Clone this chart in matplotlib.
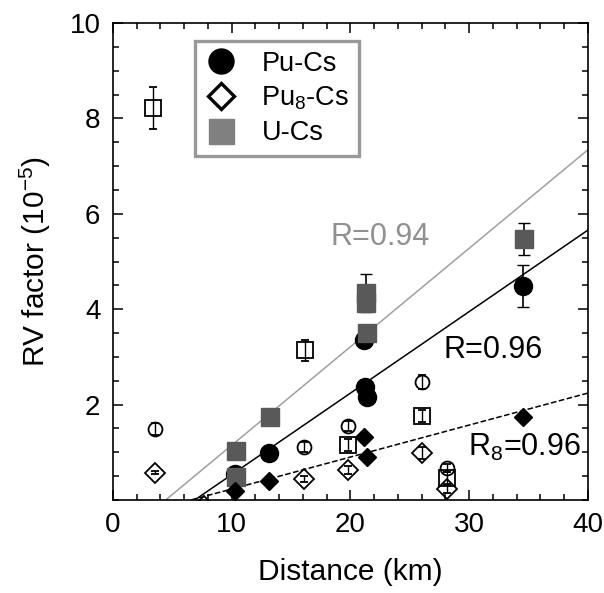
import numpy as np
import matplotlib
matplotlib.use("Agg")
import matplotlib.pyplot as plt
from matplotlib.lines import Line2D

plt.rcParams['font.family'] = ['Liberation Sans', 'DejaVu Sans']
plt.rcParams['mathtext.fontset'] = 'custom'
plt.rcParams['mathtext.rm'] = 'Liberation Sans'
plt.rcParams['mathtext.default'] = 'regular'

# filled symbols (with fits)
pu_x = [10.3, 13.1, 21.1, 21.2, 21.4, 34.5]
pu_y = [0.55, 0.99, 3.35, 2.37, 2.16, 4.49]
pu_err = [0, 0, 0, 0, 0, 0.44]

u_x = [10.4, 10.4, 13.2, 21.3, 21.3, 21.4, 34.6]
u_y = [0.47, 1.03, 1.74, 4.13, 4.34, 3.50, 5.47]
u_err = [0, 0, 0, 0, 0.40, 0, 0.33]

pu8_x = [10.3, 13.1, 21.1, 21.4, 34.5]
pu8_y = [0.18, 0.40, 1.32, 0.90, 1.74]

# open symbols (no fit)
oc_x = [3.5, 16.1, 19.8, 26.0, 28.1]
oc_y = [1.49, 1.11, 1.55, 2.47, 0.67]
oc_err = [0.12, 0.10, 0.10, 0.15, 0.08]

os_x = [3.4, 16.2, 19.8, 26.0, 28.1]
os_y = [8.22, 3.14, 1.15, 1.76, 0.46]
os_err = [0.44, 0.22, 0.12, 0.12, 0.12]

od_x = [3.5, 7.7, 16.1, 19.8, 26.0, 28.1]
od_y = [0.57, -0.12, 0.44, 0.63, 0.98, 0.23]
od_err = [0.03, 0.03, 0.06, 0.08, 0.12, 0.08]

# linear fits: slope, x-intercept, colour, style
fit_slope = [0.2066, 0.171, 0.0671]
fit_x0 = [4.45, 6.9, 6.6]
fit_color = ['#a0a0a0', 'black', 'black']
fit_style = ['-', '-', '--']

fig = plt.figure(figsize=(6.04, 5.93), dpi=100)
ax = fig.add_axes([0.187, 0.157, 0.7865, 0.804])

for k, x0, c, ls in zip(fit_slope, fit_x0, fit_color, fit_style):
    xx = np.array([x0, 40])
    ax.plot(xx, k * (xx - x0), color=c, ls=ls, lw=1.1, zorder=2)

# open symbols
ax.errorbar(oc_x, oc_y, yerr=oc_err, fmt='o', ms=10, mfc='none', mec='black',
            mew=1.3, ecolor='black', elinewidth=1, capsize=3, zorder=3)
ax.errorbar(os_x, os_y, yerr=os_err, fmt='s', ms=11, mfc='none', mec='black',
            mew=1.3, ecolor='black', elinewidth=1, capsize=3, zorder=3)
ax.errorbar(od_x, od_y, yerr=od_err, fmt='D', ms=10, mfc='none', mec='black',
            mew=1.3, ecolor='black', elinewidth=1, capsize=3, zorder=3)

# filled symbols
ax.errorbar(pu_x, pu_y, yerr=pu_err, fmt='o', ms=13, color='black',
            elinewidth=1.2, capsize=4, zorder=4)
ax.errorbar(u_x, u_y, yerr=u_err, fmt='s', ms=13.5, color='#595959',
            ecolor='black', elinewidth=1.2, capsize=4, zorder=5)
ax.plot(pu8_x, pu8_y, 'D', ms=9.5, color='black', zorder=6)

ax.text(18.3, 5.51, 'R=0.94', fontsize=22, color='#909090', va='center')
ax.text(27.8, 3.14, 'R=0.96', fontsize=22, color='black', va='center')
ax.text(29.9, 1.09, 'R$_8$=0.96', fontsize=22, color='black', va='center')

ax.set_xlim(0, 40)
ax.set_ylim(0, 10)
ax.set_xticks([0, 10, 20, 30, 40])
ax.set_xticks(np.arange(0, 41, 2), minor=True)
ax.set_yticks([2, 4, 6, 8, 10])
ax.set_yticks(np.arange(0, 10.1, 0.5), minor=True)
ax.tick_params(which='both', direction='in', top=True, right=True, width=1.1)
ax.tick_params(which='major', length=7, labelsize=20, pad=9)
ax.tick_params(which='minor', length=4)
for s in ax.spines.values():
    s.set_linewidth(1.2)

ax.set_xlabel('Distance (km)', fontsize=21.5, labelpad=14)
ax.set_ylabel('RV factor (10$^{-5}$)', fontsize=21.5, labelpad=12)

handles = [
    Line2D([], [], ls='none', marker='o', ms=18, color='black'),
    Line2D([], [], ls='none', marker='D', ms=13, mfc='white', mec='black', mew=2.4),
    Line2D([], [], ls='none', marker='s', ms=18, color='#808080'),
]
leg = ax.legend(handles, ['Pu-Cs', 'Pu$_8$-Cs', 'U-Cs'], loc='upper left',
                bbox_to_anchor=(0.173, 0.962), fontsize=19.5, frameon=True,
                fancybox=False, handlelength=1.2, handletextpad=0.9,
                labelspacing=0.3, borderpad=0.35, borderaxespad=0)
leg.get_frame().set_edgecolor('#808080')
leg.get_frame().set_linewidth(2.4)

fig.savefig('out.png', dpi=100)
